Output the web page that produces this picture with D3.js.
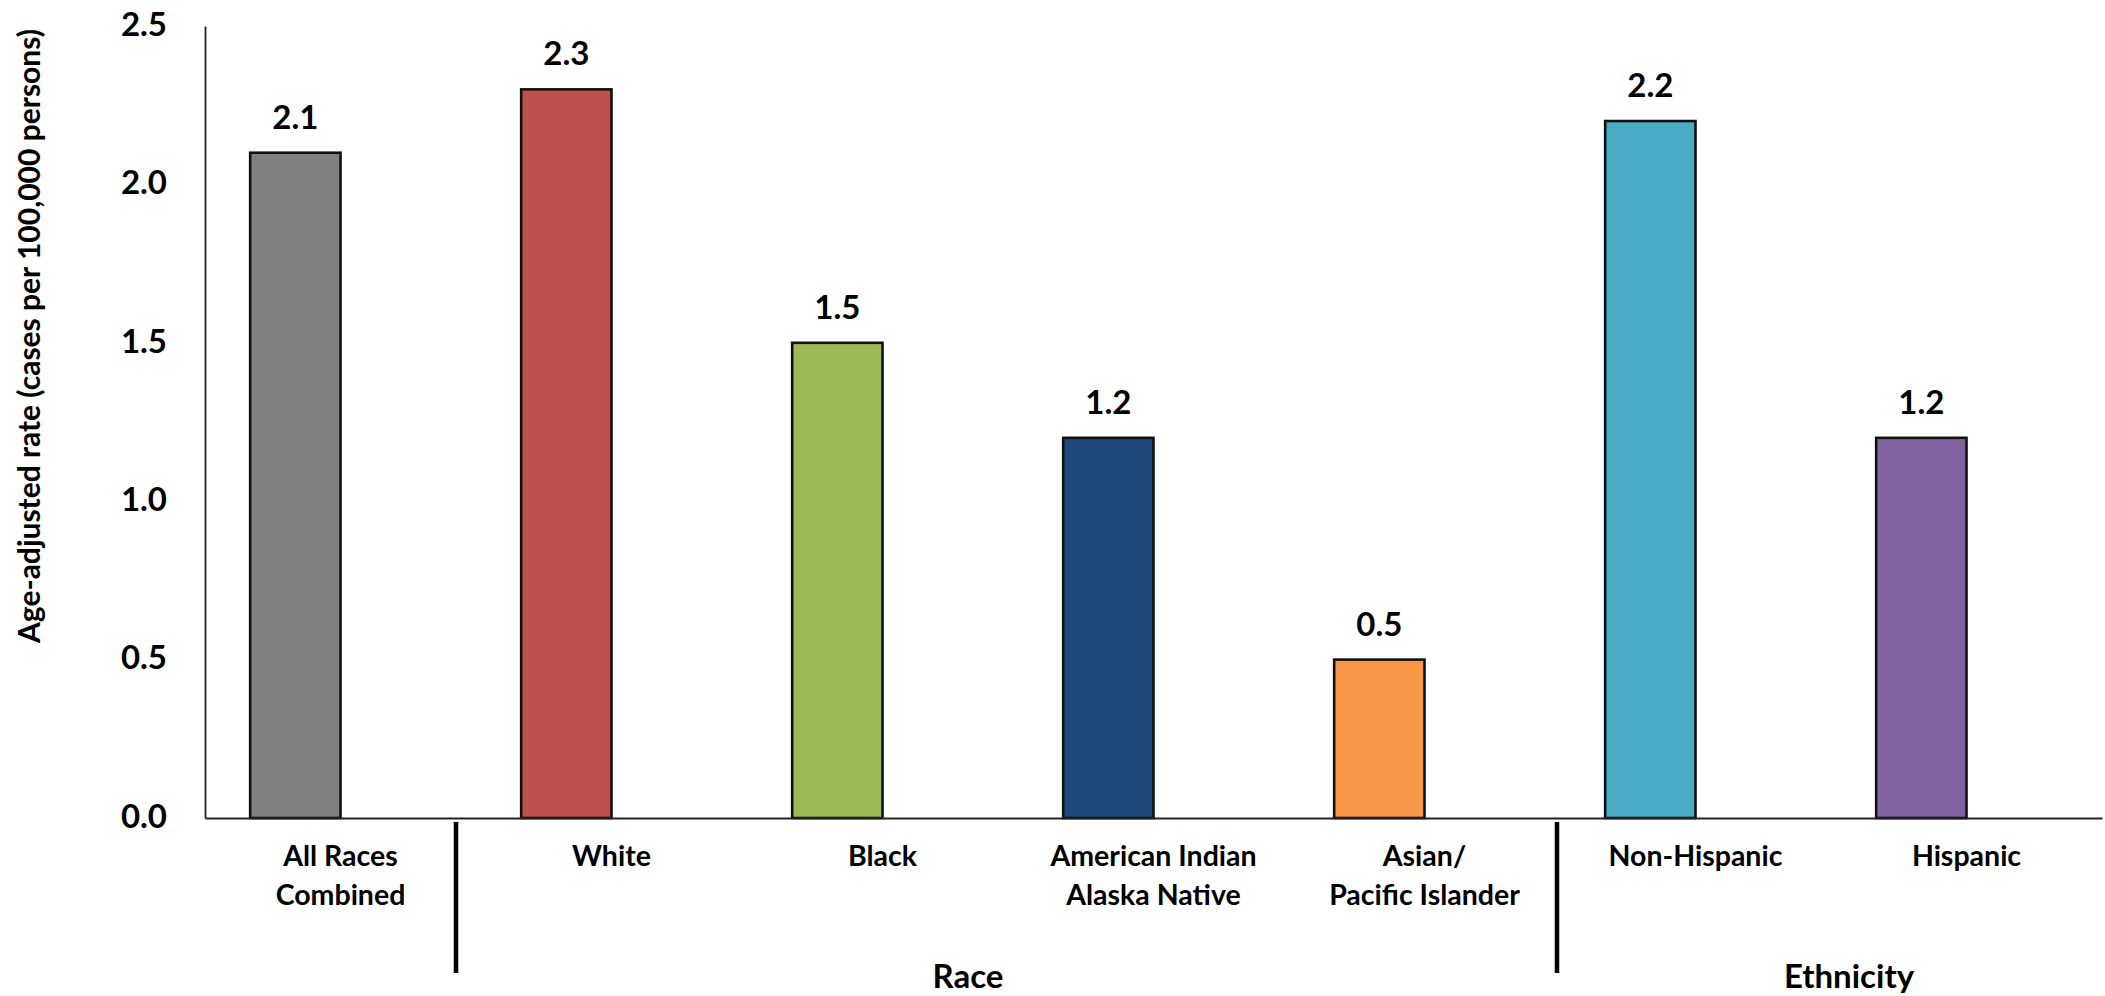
<!DOCTYPE html>
<html>
<head>
<meta charset="utf-8">
<script src="https://cdn.jsdelivr.net/npm/d3@7"></script>
<style>
  html, body { margin: 0; padding: 0; background: #fff; }
  svg { display: block; }
  text { font-family: Lato, "Noto Sans", sans-serif; font-weight: 700; fill: #000; }
</style>
</head>
<body>
<svg id="chart" width="2105" height="996"></svg>
<script>
// Age-adjusted incidence rate by race and ethnicity
const categories = [
  "All Races Combined",
  "White",
  "Black",
  "American Indian Alaska Native",
  "Asian/ Pacific Islander",
  "Non-Hispanic",
  "Hispanic"
];
const categoryLines = [
  ["All Races", "Combined"],
  ["White"],
  ["Black"],
  ["American Indian", "Alaska Native"],
  ["Asian/", "Pacific Islander"],
  ["Non-Hispanic"],
  ["Hispanic"]
];
const rates = [2.1, 2.3, 1.5, 1.2, 0.5, 2.2, 1.2];
const rateLabels = ["2.1", "2.3", "1.5", "1.2", "0.5", "2.2", "1.2"];
const barColors = ["#808080", "#C0504D", "#9BBB59", "#1F497D", "#F79646", "#4BACC6", "#8064A2"];
const yTicks = [0, 0.5, 1.0, 1.5, 2.0, 2.5];
const groups = [
  { name: "Race", first: "White", last: "Asian/ Pacific Islander" },
  { name: "Ethnicity", first: "Non-Hispanic", last: "Hispanic" }
];
const yTitle = "Age-adjusted rate (cases per 100,000 persons)";

const svg = d3.select("#chart");
const margin = { left: 205, right: 3, top: 26, bottom: 178 };
const W = +svg.attr("width"), H = +svg.attr("height");

const x = d3.scaleBand()
  .domain(categories)
  .range([margin.left, W - margin.right])
  .padding(0);

// each category slot holds the rate bar plus an empty companion slot
const xSub = d3.scaleBand()
  .domain(["rate", "spacer"])
  .range([0, x.bandwidth()])
  .paddingInner(0)
  .paddingOuter(0.5);

const y = d3.scaleLinear()
  .domain([0, 2.5])
  .range([H - margin.bottom, margin.top]);

const data = categories.map((c, i) => ({
  cat: c, value: rates[i], label: rateLabels[i], color: barColors[i], lines: categoryLines[i]
}));

// bars
svg.append("g").selectAll("rect")
  .data(data)
  .join("rect")
  .attr("x", d => x(d.cat) + xSub("rate"))
  .attr("y", d => y(d.value))
  .attr("width", xSub.bandwidth())
  .attr("height", d => y(0) - y(d.value))
  .attr("fill", d => d.color)
  .attr("stroke", "#111")
  .attr("stroke-width", 2.6);

// value labels
svg.append("g").selectAll("text")
  .data(data)
  .join("text")
  .attr("x", d => x(d.cat) + xSub("rate") + xSub.bandwidth() / 2)
  .attr("y", d => y(d.value) - 24)
  .attr("text-anchor", "middle")
  .style("font-size", "33px")
  .text(d => d.label);

// y axis
const yAxis = d3.axisLeft(y)
  .tickValues(yTicks)
  .tickFormat(d3.format(".1f"))
  .tickSize(0)
  .tickPadding(38);
const gy = svg.append("g")
  .attr("transform", `translate(${margin.left},0)`)
  .call(yAxis);
gy.select(".domain").attr("stroke", "#222").attr("stroke-width", 1.8);
gy.selectAll(".tick text")
  .attr("font-family", null)
  .attr("font-size", null)
  .style("font-size", "33px")
  .attr("dy", "0.28em");

// x axis baseline
const gx = svg.append("g")
  .attr("transform", `translate(0,${y(0)})`)
  .call(d3.axisBottom(x).tickSize(0).tickFormat(""));
gx.select(".domain").attr("stroke", "#222").attr("stroke-width", 1.8);

// category labels, centred on each category slot
const catG = svg.append("g").selectAll("text")
  .data(data)
  .join("text")
  .attr("x", d => x(d.cat) + x.bandwidth() / 2)
  .attr("y", y(0) + 48)
  .attr("text-anchor", "middle")
  .style("font-size", "28.5px");
catG.selectAll("tspan")
  .data(d => d.lines.map((t, i) => ({ t, i, px: x(d.cat) + x.bandwidth() / 2 })))
  .join("tspan")
  .attr("x", d => d.px)
  .attr("dy", d => d.i === 0 ? 0 : 39)
  .text(d => d.t);

// group dividers below the axis
const dividerNudge = { "White": -20, "Non-Hispanic": -3 };
svg.append("g").selectAll("line")
  .data(Object.keys(dividerNudge))
  .join("line")
  .attr("x1", d => x(d) + dividerNudge[d])
  .attr("x2", d => x(d) + dividerNudge[d])
  .attr("y1", y(0) + 4)
  .attr("y2", y(0) + 155)
  .attr("stroke", "#000")
  .attr("stroke-width", 4.5);

// group labels
const groupNudge = { "Race": -50, "Ethnicity": 18 };
svg.append("g").selectAll("text")
  .data(groups)
  .join("text")
  .attr("x", g => (x(g.first) + x(g.last) + x.bandwidth()) / 2 + groupNudge[g.name])
  .attr("y", y(0) + 170)
  .attr("text-anchor", "middle")
  .style("font-size", "33px")
  .text(g => g.name);

// y axis title
svg.append("text")
  .attr("transform", `translate(40,${(y(0) + y(2.5)) / 2 - 86}) rotate(-90)`)
  .attr("text-anchor", "middle")
  .style("font-size", "30px")
  .text(yTitle);
</script>
</body>
</html>
